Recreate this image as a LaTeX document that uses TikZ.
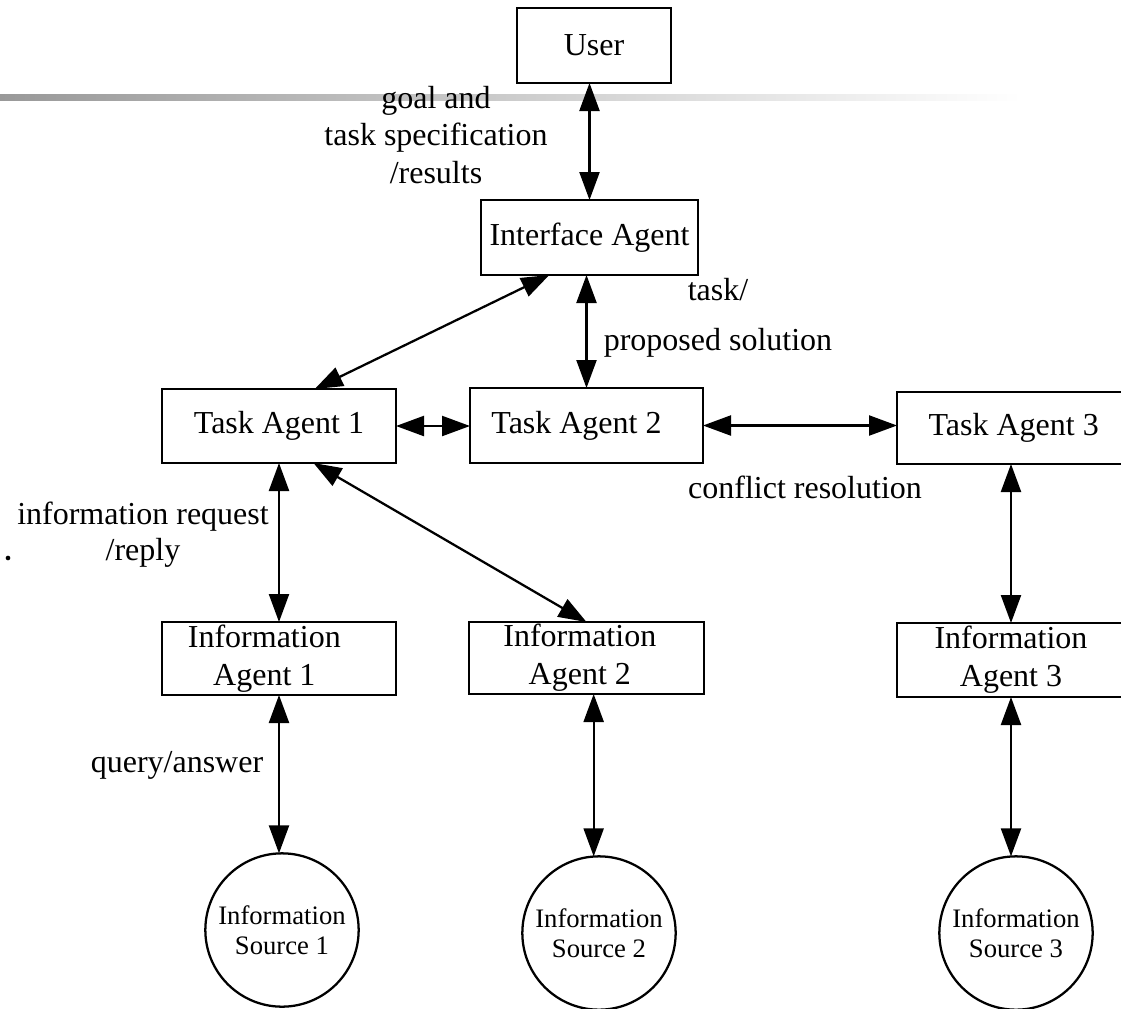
\documentclass[tikz,border=0pt]{standalone}
\usepackage{fontspec}
\setmainfont{Liberation Serif}
\usetikzlibrary{arrows.meta}

\begin{document}
\begin{tikzpicture}[x=0.75pt,y=-0.75pt,
  box/.style={draw, line width=1.9pt, inner sep=0pt, outer sep=0pt, align=center,
    font=\fontsize{24}{28.5}\selectfont},
  src/.style={draw, circle, line width=1.7pt, minimum size=115pt, inner sep=0pt,
    outer sep=0pt, align=center, font=\fontsize{20}{22.5}\selectfont},
  lbl/.style={align=center, inner sep=0pt, font=\fontsize{24}{28}\selectfont},
  dbl/.style={line width=1.7pt,
    {Triangle[length=21pt,width=15pt]}-{Triangle[length=21pt,width=15pt]}}]

\useasboundingbox (0,0) rectangle (1121,1008);
\clip (0,0) rectangle (1121,1008);

% faded title rule
\shade[left color=black!40, right color=white] (0,94) rectangle (1021,100);

% agents
\node[box, minimum width=115.5pt, minimum height=56.25pt] (user) at (594,45.5) {User};
\node[box, minimum width=162.75pt, minimum height=56.25pt] (iface) at (589.5,237.5) {Interface Agent};
\node[box, minimum width=175.5pt, minimum height=55.5pt] (ta1) at (279,426) {Task Agent 1};
\node[box, minimum width=174.75pt, minimum height=56.25pt] (ta2) at (586.5,425.5) {Task Agent 2\hspace*{15pt}};
\node[box, minimum width=171pt, minimum height=54pt] (ta3) at (1011,428) {Task Agent 3\hspace*{-4pt}};
\node[box, minimum width=175.5pt, minimum height=54.75pt] (ia1) at (279,658.5) {Information\hspace*{22pt}\\Agent 1\hspace*{22pt}};
\node[box, minimum width=176.25pt, minimum height=54pt] (ia2) at (586.5,658) {Information\hspace*{10pt}\\Agent 2\hspace*{10pt}};
\node[box, minimum width=171pt, minimum height=55.5pt] (ia3) at (1011,660) {Information\\Agent 3};

% sources
\node[src] (is1) at (282,930) {Information\\Source 1};
\node[src] (is2) at (599,933) {Information\\Source 2};
\node[src] (is3) at (1016,933) {Information\\Source 3};

% connector labels
\node[lbl, font=\fontsize{24}{28}\selectfont] (goal) at (436,135) {goal and\\task specification\\/results};
\node[lbl, font=\fontsize{24}{37.5}\selectfont] (prop) at (718,318) {task/\\proposed solution};
\node[lbl] (conf) at (805,487) {conflict resolution};
\node[lbl, font=\fontsize{24}{27}\selectfont] (req) at (143,535) {information request\\/reply};
\node[lbl] (query) at (177,765) {query/answer};
\node[circle, fill, inner sep=0pt, minimum size=3.5pt] (dot) at (8,558) {};

% connectors
\draw[dbl] (iface.north) -- (iface.north |- user.south);
\draw[dbl] (iface.223) -- (ta1.46);
\draw[dbl] (ta2.north) -- (ta2.north |- iface.south);
\draw[dbl] (ta1.east) -- (ta1.east -| ta2.west);
\draw[dbl] (ta2.east) -- (ta2.east -| ta3.west);
\draw[dbl] (ta1.south) -- (ia1.north);
\draw[dbl] (ta1.-47) -- (ia2.north);
\draw[dbl] (ta3.south) -- (ta3.south |- ia3.north);
\draw[dbl] (ia1.south) -- (ia1.south |- is1.north);
\draw[dbl] ([xshift=-4pt]is2.north) -- ([xshift=-4pt]is2.north |- ia2.south);
\draw[dbl] (ia3.south) -- (ia3.south |- is3.north);

\end{tikzpicture}
\end{document}
